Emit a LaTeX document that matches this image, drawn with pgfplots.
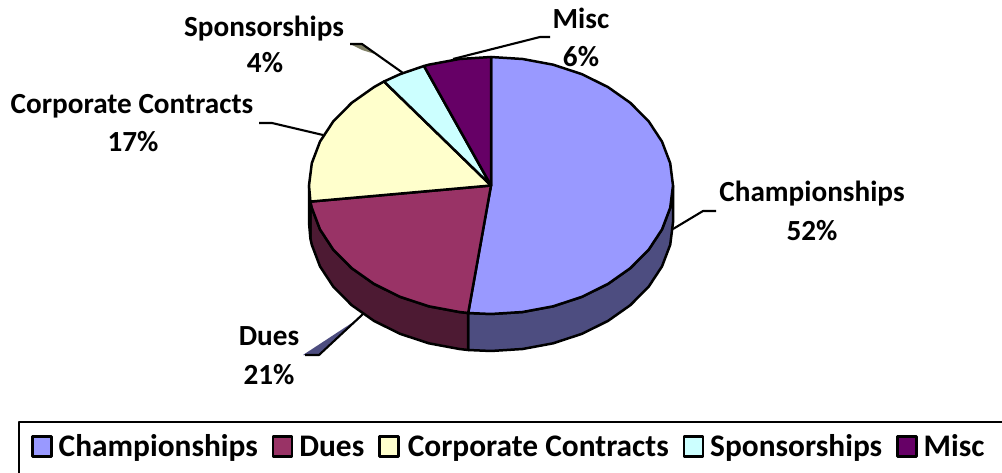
\documentclass[border=0pt]{standalone}
\usepackage{pgfplots}
\pgfplotsset{compat=1.18}
\usepackage{fontspec}
\setmainfont{Carlito}
\definecolor{cA}{HTML}{9999FF}\definecolor{cAs}{HTML}{4D4D80}
\definecolor{cB}{HTML}{993366}\definecolor{cBs}{HTML}{4D1A33}
\definecolor{cC}{HTML}{FFFFCC}\definecolor{cCs}{HTML}{808066}
\definecolor{cD}{HTML}{CCFFFF}
\definecolor{cE}{HTML}{660066}
\begin{document}
\begin{tikzpicture}
\useasboundingbox (0,0) rectangle (1002pt,473pt);
\begin{axis}[
  at={(0,0)}, anchor=south west,
  scale only axis, width=1002pt, height=473pt,
  xmin=0, xmax=1002, ymin=0, ymax=473, y dir=reverse,
  hide axis, clip=true,
  every axis plot/.append style={line width=2.5pt, draw=black, line join=round},
  legend columns=5,
  legend cell align=left,
  legend style={at={(axis cs:31,446.5)}, anchor=west, draw=none, fill=none,
    font=\fontsize{31.4}{36}\selectfont\bfseries, inner sep=0pt,
    nodes={text depth=5pt, text height=24pt},
    /tikz/every even column/.style={column sep=12pt},
    /tikz/every odd column/.style={column sep=4pt}},
  legend image code/.code={\draw[#1, line width=2.5pt] (0pt,-10pt) rectangle (19pt,10pt);},
]
% sides
\addplot[fill=cAs, forget plot] coordinates {(673,185.5)(670.2,207.8)(662,229.4)(648.6,249.8)(630.4,268.1)(608,283.9)(582,296.8)(553.2,306.3)(522.6,312)(491,314)(468.2,313)(468.2,350)(491,351)(522.6,349)(553.2,343.3)(582,333.8)(608,320.9)(630.4,305.1)(648.6,286.8)(662,266.4)(670.2,244.8)(673,222.5)} -- cycle;
\addplot[fill=cBs, forget plot] coordinates {(468.2,313)(459.4,312)(428.8,306.3)(400,296.8)(374,283.9)(351.6,268.1)(333.4,249.8)(320,229.4)(311.8,207.8)(310.4,201.6)(310.4,238.6)(311.8,244.8)(320,266.4)(333.4,286.8)(351.6,305.1)(374,320.9)(400,333.8)(428.8,343.3)(459.4,349)(468.2,350)} -- cycle;
\addplot[fill=cCs, forget plot] coordinates {(310.4,201.6)(309,185.5)(309,222.5)(310.4,238.6)} -- cycle;
% tops
\addplot[fill=cA] coordinates {(491,185.5)(491,57)(522.6,59)(553.2,64.7)(582,74.2)(608,87.1)(630.4,102.9)(648.6,121.2)(662,141.6)(670.2,163.2)(673,185.5)(670.2,207.8)(662,229.4)(648.6,249.8)(630.4,268.1)(608,283.9)(582,296.8)(553.2,306.3)(522.6,312)(491,314)(468.2,313)} -- cycle;
\addlegendentry{Championships}
\addplot[fill=cB] coordinates {(491,185.5)(468.2,313)(459.4,312)(428.8,306.3)(400,296.8)(374,283.9)(351.6,268.1)(333.4,249.8)(320,229.4)(311.8,207.8)(310.4,201.6)} -- cycle;
\addlegendentry{Dues}
\addplot[fill=cC] coordinates {(491,185.5)(310.4,201.6)(309,185.5)(311.8,163.2)(320,141.6)(333.4,121.2)(351.6,102.9)(374,87.1)(384,81.5)} -- cycle;
\addlegendentry{\hspace{2pt}Corporate Contracts\hspace{4pt}}
\addplot[fill=cD] coordinates {(491,185.5)(384,81.5)(400,74.2)(424,66)} -- cycle;
\addlegendentry{Sponsorships}
\addplot[fill=cE] coordinates {(491,185.5)(424,66)(428.8,64.7)(459.4,59)(491,57)} -- cycle;
\addlegendentry{Misc}
% leader lines
\addplot[draw=none, fill=cAs, forget plot] coordinates {(361,317)(319,355)(303,355)} -- cycle;
\addplot[draw=none, fill=cCs, forget plot] coordinates {(350,44)(362,44)(378,55)(362,50)} -- cycle;
\addplot[line width=2.1pt, forget plot] coordinates {(673,229)(703,211)(716,211)};
\addplot[line width=2.1pt, forget plot] coordinates {(363,314)(319,355)(305,355)};
\addplot[line width=2.1pt, forget plot] coordinates {(323,135)(272,123)(259,123)};
\addplot[line width=2.1pt, forget plot] coordinates {(403,73)(362,44)(350,44)};
\addplot[line width=2.1pt, forget plot] coordinates {(453,59)(540,37)(550,37)};
% legend frame
\addplot[line width=2.5pt, forget plot] coordinates {(1010,422)(19,422)(19,480)};
% labels
\tikzset{lab/.style={font=\fontsize{29.2}{34}\selectfont\bfseries, inner sep=0pt, anchor=center}}
\node[lab] at (axis cs:812,194) {Championships};
\node[lab] at (axis cs:812,231) {52\%};
\node[lab] at (axis cs:269,336) {Dues};
\node[lab] at (axis cs:269,375) {21\%};
\node[lab] at (axis cs:132,106) {Corporate Contracts};
\node[lab] at (axis cs:133,142) {17\%};
\node[lab] at (axis cs:264,29) {Sponsorships};
\node[lab] at (axis cs:265,63) {4\%};
\node[lab] at (axis cs:581,18) {Misc};
\node[lab] at (axis cs:581,57) {6\%};
\end{axis}
\end{tikzpicture}
\end{document}
